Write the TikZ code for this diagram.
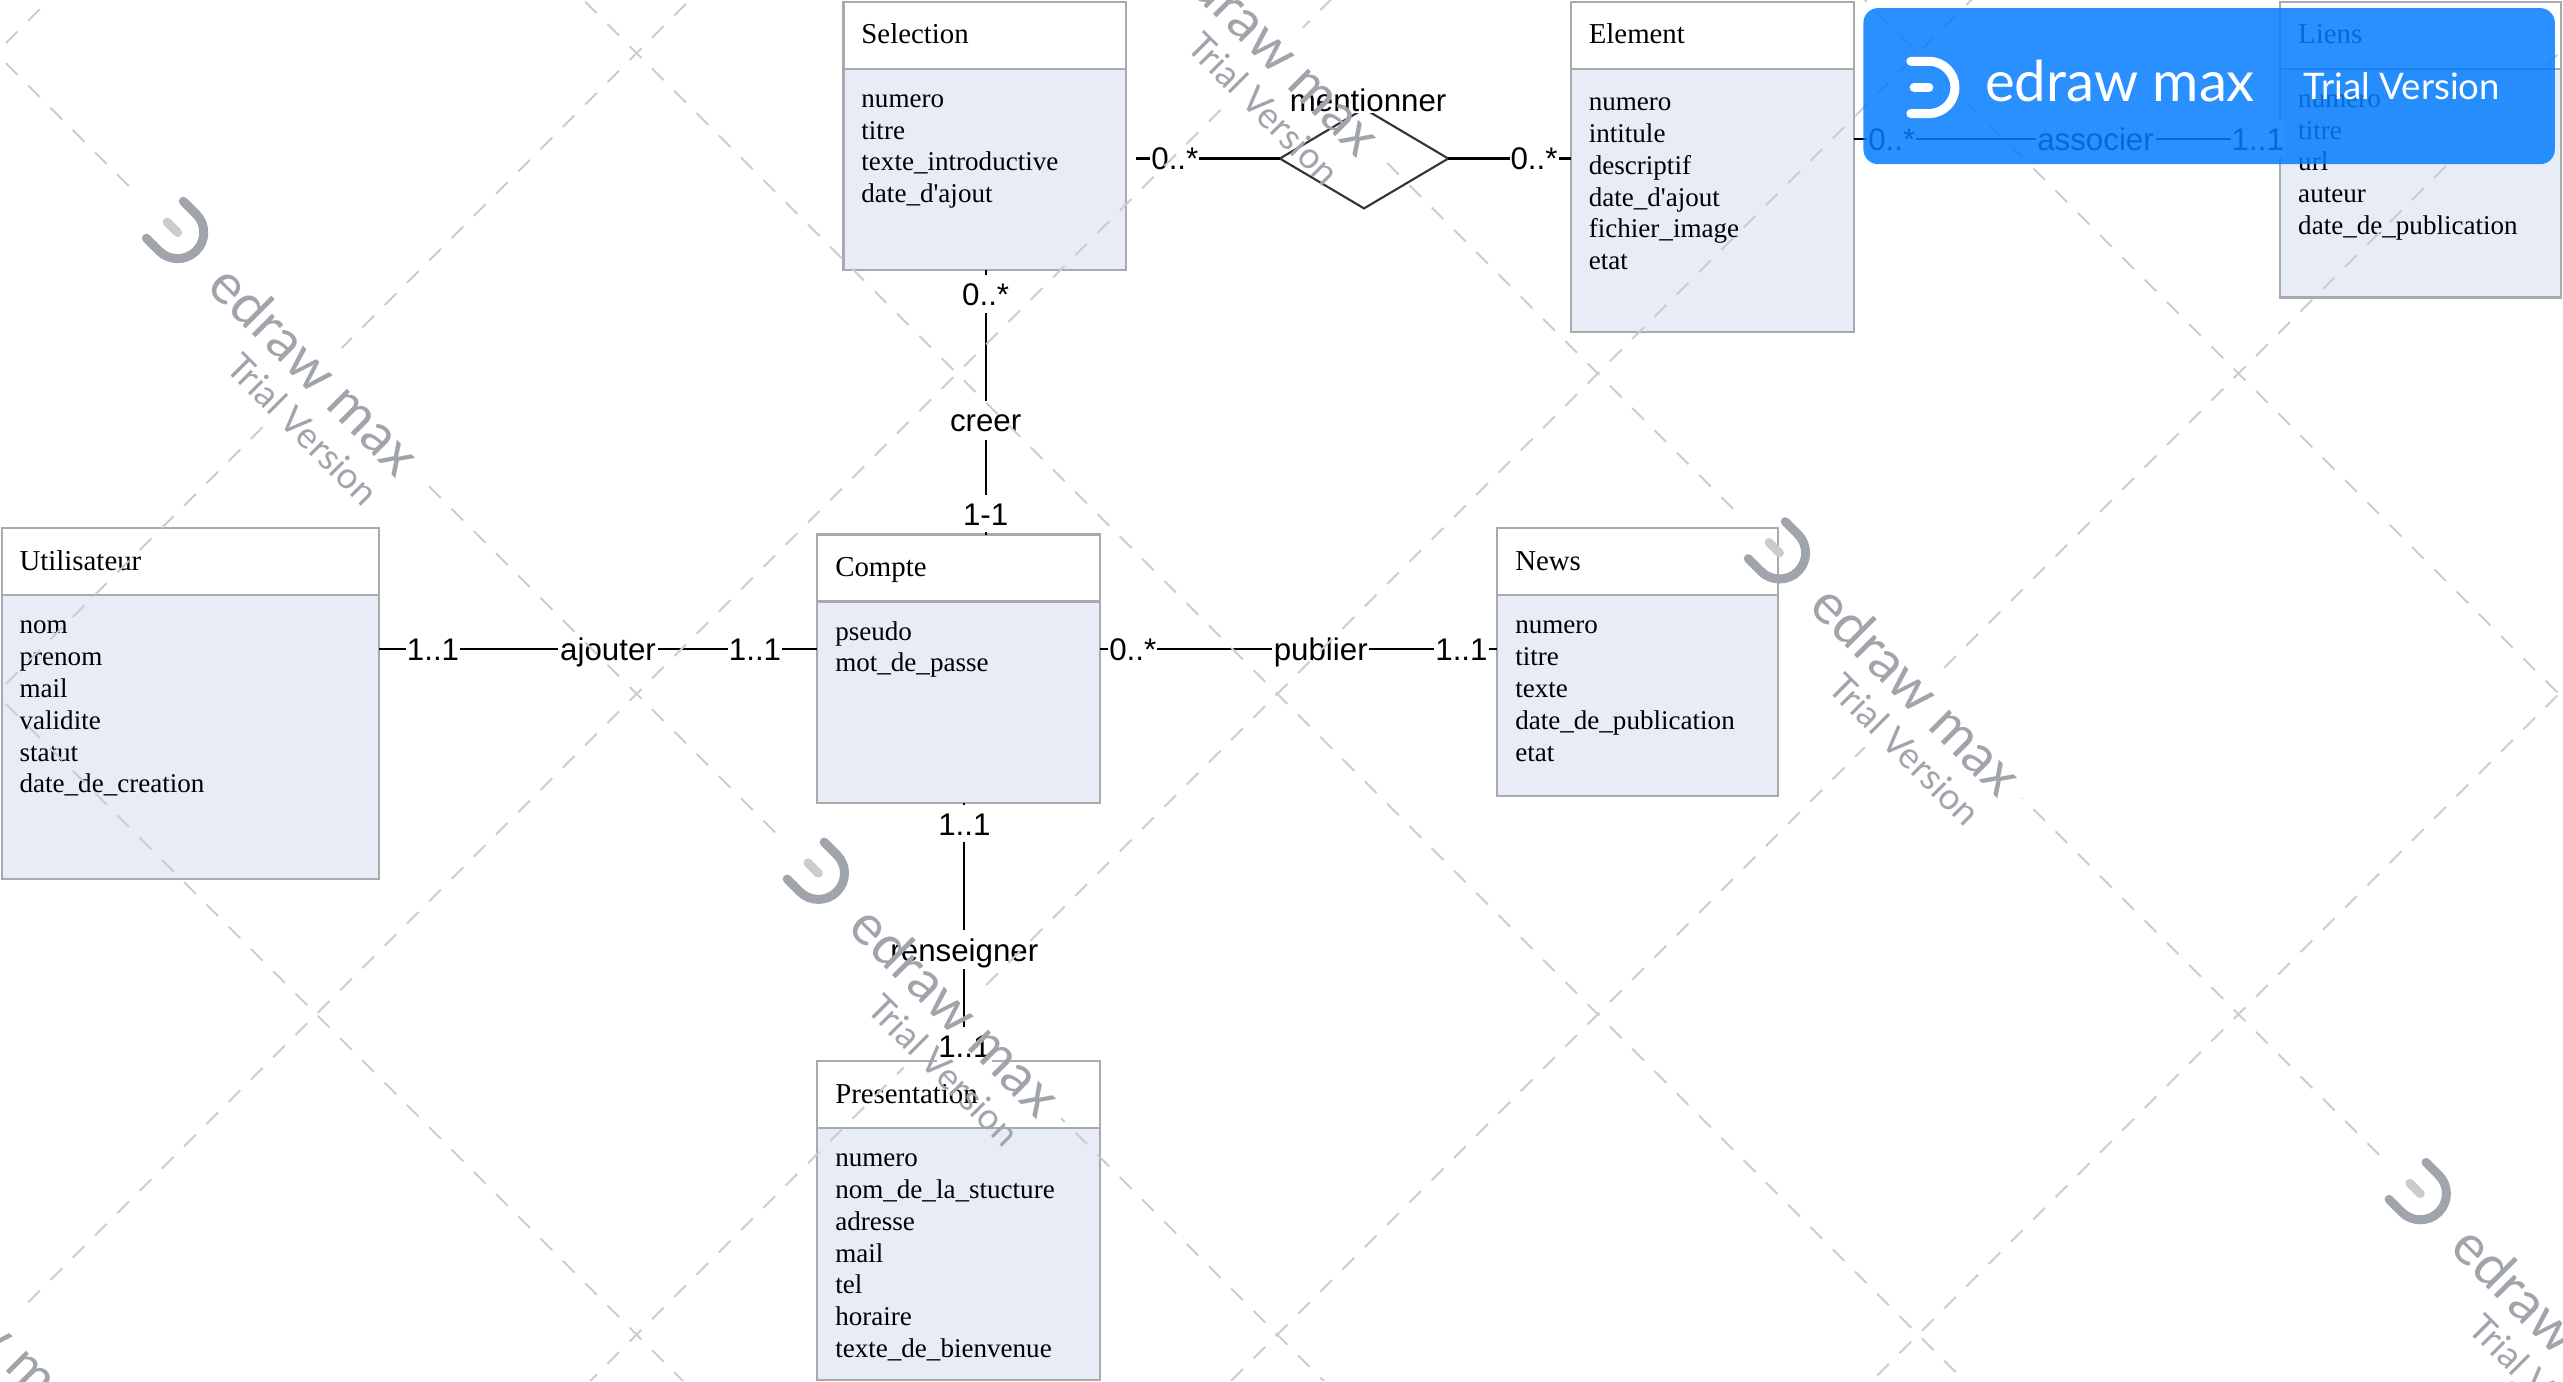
\documentclass[tikz,border=0pt]{standalone}
\usepackage{fontspec}
\usepackage{xcolor}
\usetikzlibrary{positioning,shapes.geometric}
\newfontfamily\boxfont{Liberation Serif}
\newfontfamily\labelfont{Liberation Sans}
\newfontfamily\markfont{Lato}
\definecolor{boxfill}{HTML}{E8ECF7}
\definecolor{boxline}{HTML}{A9AAAE}
\definecolor{markgray}{HTML}{A0A4AB}
\definecolor{marklight}{HTML}{CACCD1}
\definecolor{bannerblue}{HTML}{057DFF}
\newcommand{\px}{0.016346cm}
\newcommand{\entity}[7][0]{%
  \node[entitybox,minimum width=#4*\px,minimum height=#5*\px] (#2) at (#3) {};
  \node[titlebox,text width=(#4-22)*\px] (#2title) at (#2.north west) {#6};
  \node[attrtext,yshift=-#1*\px] (#2attrs) at (#2title.south west) {\strut #7};
}
\newcommand{\edrawlogo}[2]{%
  \draw[logostroke,#1] (0,-16) -- (11,-16) arc[start angle=-90,end angle=90,radius=16] -- (0,16);
  \draw[logostroke,#2] (2,0) -- (11,0);
}

\begin{document}
\begin{tikzpicture}[
    x=\px,y=-\px,
    entitybox/.style={rectangle,draw=boxline,fill=boxfill,line width=0.6pt,outer sep=0pt,inner sep=0pt,anchor=north west},
    titlebox/.style={rectangle,draw=boxline,fill=white,line width=0.6pt,outer sep=0pt,inner ysep=0pt,inner xsep=11*\px,
                     minimum height=41*\px,text height=7.5pt,text depth=2.5pt,align=left,anchor=north west,
                     font=\boxfont\fontsize{8.2}{10}\selectfont},
    attrtext/.style={rectangle,outer sep=0pt,inner xsep=11*\px,inner ysep=4.6pt,align=left,anchor=north west,
                     font=\boxfont\fontsize{7.7}{9.07}\selectfont},
    link/.style={draw=black,line width=0.6pt},
    verb/.style={rectangle,fill=white,inner xsep=0.3pt,inner ysep=0pt,minimum height=23*\px,text height=7.4pt,text depth=0.9pt,
                 font=\labelfont\fontsize{8.9}{10}\selectfont},
    card/.style={verb},
    relshape/.style={diamond,draw=black!80,fill=white,line width=0.6pt,inner sep=0pt,outer sep=0pt},
    gridline/.style={draw=marklight,line width=0.55pt,dash pattern=on 0.165cm off 0.15cm},
    logostroke/.style={line width=5.5*\px,line cap=round},
    stamptitle/.style={inner sep=0pt,anchor=base west,text=markgray,font=\markfont\fontsize{16}{18}\selectfont},
    stampsub/.style={inner sep=0pt,anchor=base west,text=markgray,font=\markfont\fontsize{10.4}{12}\selectfont},
    stampframe/.style={shift={(#1)},rotate=-45}
]
\useasboundingbox (0,0) rectangle (1568,844.9);

% entities
\entity{selection}{516,1}{173}{164}{Selection}{numero\\titre\\texte\_introductive\\date\_d'ajout}
\entity[2]{element}{961,1}{173}{202}{Element}{numero\\intitule\\descriptif\\date\_d'ajout\\fichier\_image\\etat}
\entity{liens}{1395,1}{172}{181}{Liens}{numero\\titre\\url\\auteur\\date\_de\_publication}
\entity{utilisateur}{1,323}{231}{215}{Utilisateur}{nom\\prenom\\mail\\validite\\statut\\date\_de\_creation}
\entity{compte}{500,327}{173}{164}{Compte}{pseudo\\mot\_de\_passe}
\entity{news}{916,323}{172}{164}{News}{numero\\titre\\texte\\date\_de\_publication\\etat}
\entity{presentation}{500,649}{173}{195}{Presentation}{numero\\nom\_de\_la\_stucture\\adresse\\mail\\tel\\horaire\\texte\_de\_bienvenue}

% relations
\node[verb] (ajouter) at (372,397) {ajouter};
\node[verb] (publier) at (808,397) {publier};
\node[verb] (creer) at (603,257) {creer};
\node[verb] (renseigner) at (590,581) {renseigner};
\node[verb] (associer) at (1282,85) {associer};
\node[relshape,minimum width=103*\px,minimum height=61*\px] (mention) at (834.5,97) {};
\node[verb,minimum height=0pt,text height=6.4pt,text depth=0.4pt] (mentionlabel) at (837,61.6) {mentionner};

\draw[link] (utilisateur.east |- ajouter) -- node[card,pos=0.30] (ajoutera) {1..1} (ajouter);
\draw[link] (ajouter) -- node[card,pos=0.61] (ajouterb) {1..1} (compte.west |- ajouter);
\draw[link] (compte.east |- publier) -- node[card,pos=0.19] (publiera) {0..*} (publier);
\draw[link] (publier) -- node[card,pos=0.72] (publierb) {1..1} (news.west |- publier);
\draw[link] (selection.south -| creer) -- node[card,pos=0.185] (creera) {0..*} (creer);
\draw[link] (creer) -- node[card,pos=0.78] (creerb) {1-1} (compte.north -| creer);
\draw[link] (compte.south -| renseigner) -- node[card,pos=0.165] (renseignera) {1..1} (renseigner);
\draw[link] (renseigner) -- node[card,pos=0.84] (renseignerb) {1..1} (presentation.north -| renseigner);
\draw[link] ([xshift=6*\px]selection.east |- mention) -- node[card,pos=0.27] (mentiona) {0..*} (mention.west);
\draw[link] (mention.east) -- node[card,pos=0.70] (mentionb) {0..*} (element.west |- mention);
\draw[link] (element.east |- associer) -- node[card,pos=0.21] (associera) {0..*} (associer);
\draw[link] (associer) -- node[card,pos=0.82] (associerb) {1..1} (liens.west |- associer);

% watermark
\begin{scope}[even odd rule]
\clip (0,0) rectangle (1568,845)
  \foreach \cx/\cy in {193.5/228.5,781.5/32.5,1173.5/424.5,585.5/620.5,1565.5/816.5,-2.5/816.5} {
    ([stampframe={\cx,\cy}]-153,-22) -- ([stampframe={\cx,\cy}]90,-22)
    -- ([stampframe={\cx,\cy}]90,46) -- ([stampframe={\cx,\cy}]-153,46) -- cycle
  };
\foreach \c in {-1141,-749,-357,35,427,819} {
  \draw[gridline] (-10,-10+\c) -- (1578,1578+\c);
}
\foreach \c in {30,422,814,1206,1598,1990,2382} {
  \draw[gridline] (-10,\c+10) -- (\c+10,-10);
}
\end{scope}
\foreach \cx/\cy [count=\i] in {193.5/228.5,781.5/32.5,1173.5/424.5,585.5/620.5,1565.5/816.5,-2.5/816.5} {
  \begin{scope}[stampframe={\cx,\cy},transform shape]
    \begin{scope}[shift={(-132,-1)}]
      \edrawlogo{markgray}{marklight}
    \end{scope}
    \node[stamptitle] (stampname\i) at (-85,11) {edraw max};
    \node[stampsub] (stampsub\i) at (-42,38) {Trial Version};
  \end{scope}
}

% banner
\node[rectangle,fill=bannerblue,opacity=0.85,rounded corners=9*\px,inner sep=0pt,minimum width=423*\px,minimum height=95.5*\px] (banner) at (1351.5,52.7) {};
\begin{scope}[shift={(1169,53.5)}]
  \edrawlogo{white}{white}
\end{scope}
\node[inner sep=0pt,anchor=base west,text=white,font=\markfont\fontsize{16}{18}\selectfont] (bannername) at (1214,62) {edraw max};
\node[inner sep=0pt,anchor=base west,text=white,font=\markfont\fontsize{10.4}{12}\selectfont] (bannersub) at (1409,60.6) {Trial Version};
\end{tikzpicture}
\end{document}
